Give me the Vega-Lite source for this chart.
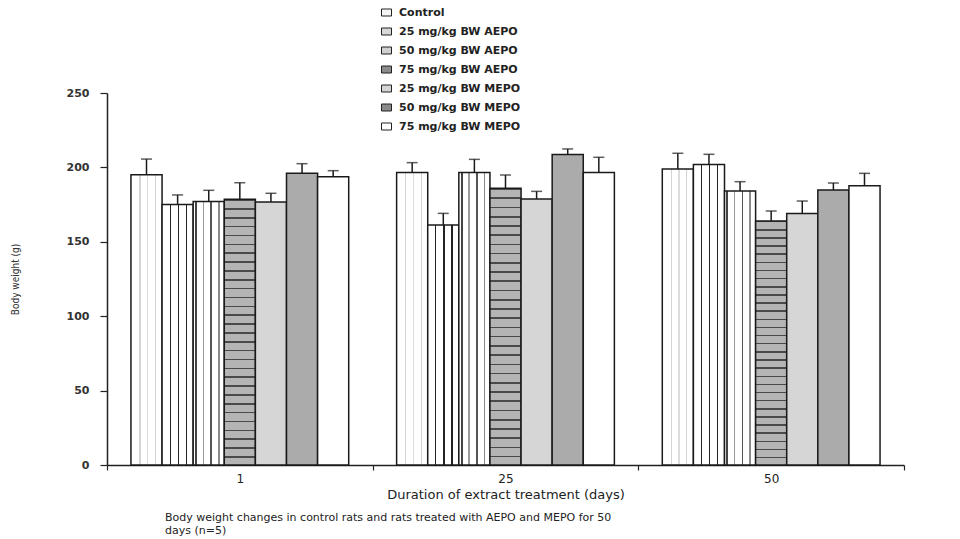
{
  "$schema": "https://vega.github.io/schema/vega-lite/v6.json",
  "width": 797,
  "height": 372,
  "autosize": {"type": "none"},
  "padding": {"left": 107, "top": 93, "right": 56, "bottom": 74},
  "background": "white",
  "config": {"view": {"stroke": null}},
  "title": {
    "text": ["Body weight changes in control rats and rats treated with AEPO and MEPO for 50", "days (n=5)"],
    "orient": "bottom",
    "anchor": "start",
    "frame": "group",
    "dx": 58,
    "offset": 11,
    "font": "DejaVu Sans",
    "fontSize": 11,
    "fontWeight": "normal",
    "color": "#222",
    "lineHeight": 13
  },
  "data": {
    "values": [
      {"day": "1", "group": "Control", "mean": 195.0, "hi": 205.6},
      {"day": "1", "group": "25 mg/kg BW AEPO", "mean": 175.0, "hi": 181.5},
      {"day": "1", "group": "50 mg/kg BW AEPO", "mean": 177.0, "hi": 184.6},
      {"day": "1", "group": "75 mg/kg BW AEPO", "mean": 178.6, "hi": 189.7},
      {"day": "1", "group": "25 mg/kg BW MEPO", "mean": 176.7, "hi": 182.6},
      {"day": "1", "group": "50 mg/kg BW MEPO", "mean": 196.0, "hi": 202.5},
      {"day": "1", "group": "75 mg/kg BW MEPO", "mean": 193.8, "hi": 197.8},
      {"day": "25", "group": "Control", "mean": 196.5, "hi": 203.2},
      {"day": "25", "group": "25 mg/kg BW AEPO", "mean": 161.3, "hi": 169.1},
      {"day": "25", "group": "50 mg/kg BW AEPO", "mean": 196.5, "hi": 205.4},
      {"day": "25", "group": "75 mg/kg BW AEPO", "mean": 186.0, "hi": 194.9},
      {"day": "25", "group": "25 mg/kg BW MEPO", "mean": 178.8, "hi": 183.9},
      {"day": "25", "group": "50 mg/kg BW MEPO", "mean": 208.6, "hi": 212.4},
      {"day": "25", "group": "75 mg/kg BW MEPO", "mean": 196.5, "hi": 206.8},
      {"day": "50", "group": "Control", "mean": 198.9, "hi": 209.5},
      {"day": "50", "group": "25 mg/kg BW AEPO", "mean": 202.0, "hi": 208.8},
      {"day": "50", "group": "50 mg/kg BW AEPO", "mean": 184.1, "hi": 190.4},
      {"day": "50", "group": "75 mg/kg BW AEPO", "mean": 164.0, "hi": 170.7},
      {"day": "50", "group": "25 mg/kg BW MEPO", "mean": 169.1, "hi": 177.4},
      {"day": "50", "group": "50 mg/kg BW MEPO", "mean": 184.8, "hi": 189.5},
      {"day": "50", "group": "75 mg/kg BW MEPO", "mean": 187.7, "hi": 196.0}
    ]
  },
  "encoding": {
    "x": {
      "field": "day",
      "type": "ordinal",
      "scale": {"domain": ["1", "25", "50"], "paddingInner": 0, "paddingOuter": 0},
      "axis": {
        "title": "Duration of extract treatment (days)",
        "labelAngle": 0,
        "tickBand": "extent",
        "tickSize": 5,
        "labelPadding": 3,
        "labelFont": "DejaVu Sans",
        "labelFontSize": 12,
        "labelColor": "#222",
        "titleFont": "DejaVu Sans",
        "titleFontSize": 13,
        "titleFontWeight": "normal",
        "titleColor": "#222",
        "titlePadding": 4,
        "domainColor": "#222",
        "domainWidth": 1.5,
        "tickColor": "#222",
        "tickWidth": 1.2
      }
    },
    "xOffset": {
      "field": "group",
      "type": "nominal",
      "scale": {
        "domain": ["Control", "25 mg/kg BW AEPO", "50 mg/kg BW AEPO", "75 mg/kg BW AEPO", "25 mg/kg BW MEPO", "50 mg/kg BW MEPO", "75 mg/kg BW MEPO"],
        "paddingInner": 0,
        "paddingOuter": 0.77
      }
    }
  },
  "layer": [
    {
      "mark": {"type": "bar", "stroke": null},
      "encoding": {
        "y": {
          "field": "mean",
          "type": "quantitative",
          "scale": {"domain": [0, 250], "nice": false},
          "axis": {
            "title": "Body weight (g)",
            "values": [0, 50, 100, 150, 200, 250],
            "grid": false,
            "tickSize": 7,
            "labelPadding": 11,
            "labelFont": "DejaVu Sans",
            "labelFontSize": 11,
            "labelFontWeight": "bold",
            "labelColor": "#333",
            "titleFont": "DejaVu Sans Condensed, DejaVu Sans",
            "titleFontSize": 10,
            "titleFontWeight": "normal",
            "titleColor": "#333",
            "titleX": -92,
            "titleY": 186,
            "titleAngle": 270,
            "titleAlign": "center",
            "titleBaseline": "middle",
            "domainColor": "#222",
            "domainWidth": 1.5,
            "tickColor": "#222",
            "tickWidth": 1.2
          }
        },
        "fill": {
          "field": "group",
          "type": "nominal",
          "scale": {
            "domain": ["Control", "25 mg/kg BW AEPO", "50 mg/kg BW AEPO", "75 mg/kg BW AEPO", "25 mg/kg BW MEPO", "50 mg/kg BW MEPO", "75 mg/kg BW MEPO"],
            "range": ["#f6f6f6", "#d8d8d8", "#d0d0d0", "#8c8c8c", "#d4d4d4", "#8a8a8a", "#ffffff"]
          },
          "legend": {
            "orient": "none",
            "legendX": 274,
            "legendY": -86,
            "title": null,
            "padding": 0,
            "symbolType": "M-1,-0.7H1V0.7H-1Z",
            "symbolSize": 100,
            "symbolStrokeColor": "#222",
            "symbolStrokeWidth": 1,
            "symbolOpacity": 1,
            "labelFont": "DejaVu Sans",
            "labelFontSize": 11,
            "labelFontWeight": "bold",
            "labelColor": "#222",
            "labelOffset": 7,
            "rowPadding": 7
          }
        }
      }
    },
    {
      "mark": {"type": "bar", "stroke": "#1a1a1a", "strokeWidth": 1.5},
      "encoding": {
        "y": {"field": "mean", "type": "quantitative"},
        "fill": {
          "condition": [
            {
              "test": "datum.group === 'Control'",
              "value": {
                "gradient": "linear", "x1": 0, "y1": 0, "x2": 1, "y2": 0,
                "stops": [
                  {"offset": 0, "color": "#ffffff"}, {"offset": 0.27, "color": "#ffffff"},
                  {"offset": 0.27, "color": "#d4d4d4"}, {"offset": 0.31, "color": "#d4d4d4"},
                  {"offset": 0.31, "color": "#ffffff"}, {"offset": 0.52, "color": "#ffffff"},
                  {"offset": 0.52, "color": "#dcdcdc"}, {"offset": 0.56, "color": "#dcdcdc"},
                  {"offset": 0.56, "color": "#ffffff"}, {"offset": 0.77, "color": "#ffffff"},
                  {"offset": 0.77, "color": "#d4d4d4"}, {"offset": 0.81, "color": "#d4d4d4"},
                  {"offset": 0.81, "color": "#ffffff"}, {"offset": 1, "color": "#ffffff"}
                ]
              }
            },
            {
              "test": "datum.group === '25 mg/kg BW AEPO'",
              "value": {
                "gradient": "linear", "x1": 0, "y1": 0, "x2": 1, "y2": 0,
                "stops": [
                  {"offset": 0, "color": "#ffffff"}, {"offset": 0.24, "color": "#ffffff"},
                  {"offset": 0.24, "color": "#222222"}, {"offset": 0.28, "color": "#222222"},
                  {"offset": 0.28, "color": "#ffffff"}, {"offset": 0.5, "color": "#ffffff"},
                  {"offset": 0.5, "color": "#222222"}, {"offset": 0.54, "color": "#222222"},
                  {"offset": 0.54, "color": "#ffffff"}, {"offset": 0.76, "color": "#ffffff"},
                  {"offset": 0.76, "color": "#222222"}, {"offset": 0.8, "color": "#222222"},
                  {"offset": 0.8, "color": "#ffffff"}, {"offset": 1, "color": "#ffffff"}
                ]
              }
            },
            {
              "test": "datum.group === '50 mg/kg BW AEPO'",
              "value": {
                "gradient": "linear", "x1": 0, "y1": 0, "x2": 1, "y2": 0,
                "stops": [
                  {"offset": 0, "color": "#ffffff"}, {"offset": 0.06, "color": "#ffffff"},
                  {"offset": 0.06, "color": "#444444"}, {"offset": 0.12, "color": "#444444"},
                  {"offset": 0.12, "color": "#ffffff"}, {"offset": 0.31, "color": "#ffffff"},
                  {"offset": 0.31, "color": "#9a9a9a"}, {"offset": 0.35, "color": "#9a9a9a"},
                  {"offset": 0.35, "color": "#ffffff"}, {"offset": 0.55, "color": "#ffffff"},
                  {"offset": 0.55, "color": "#555555"}, {"offset": 0.6, "color": "#555555"},
                  {"offset": 0.6, "color": "#ffffff"}, {"offset": 0.8, "color": "#ffffff"},
                  {"offset": 0.8, "color": "#8a8a8a"}, {"offset": 0.85, "color": "#8a8a8a"},
                  {"offset": 0.85, "color": "#ffffff"}, {"offset": 1, "color": "#ffffff"}
                ]
              }
            },
            {
              "test": "datum.group === '75 mg/kg BW AEPO'",
              "value": {
                "gradient": "linear", "x1": 0, "y1": 0, "x2": 0, "y2": 1,
                "stops": [
                  {"offset": 0, "color": "#4a4a4a"}, {"offset": 0.006, "color": "#4a4a4a"}, {"offset": 0.006, "color": "#b4b4b4"}, {"offset": 0.0333, "color": "#b4b4b4"},
                  {"offset": 0.0333, "color": "#4a4a4a"}, {"offset": 0.0393, "color": "#4a4a4a"}, {"offset": 0.0393, "color": "#b4b4b4"}, {"offset": 0.0667, "color": "#b4b4b4"},
                  {"offset": 0.0667, "color": "#4a4a4a"}, {"offset": 0.0727, "color": "#4a4a4a"}, {"offset": 0.0727, "color": "#b4b4b4"}, {"offset": 0.1, "color": "#b4b4b4"},
                  {"offset": 0.1, "color": "#4a4a4a"}, {"offset": 0.106, "color": "#4a4a4a"}, {"offset": 0.106, "color": "#b4b4b4"}, {"offset": 0.1333, "color": "#b4b4b4"},
                  {"offset": 0.1333, "color": "#4a4a4a"}, {"offset": 0.1393, "color": "#4a4a4a"}, {"offset": 0.1393, "color": "#b4b4b4"}, {"offset": 0.1667, "color": "#b4b4b4"},
                  {"offset": 0.1667, "color": "#4a4a4a"}, {"offset": 0.1727, "color": "#4a4a4a"}, {"offset": 0.1727, "color": "#b4b4b4"}, {"offset": 0.2, "color": "#b4b4b4"},
                  {"offset": 0.2, "color": "#4a4a4a"}, {"offset": 0.206, "color": "#4a4a4a"}, {"offset": 0.206, "color": "#b4b4b4"}, {"offset": 0.2333, "color": "#b4b4b4"},
                  {"offset": 0.2333, "color": "#4a4a4a"}, {"offset": 0.2393, "color": "#4a4a4a"}, {"offset": 0.2393, "color": "#b4b4b4"}, {"offset": 0.2667, "color": "#b4b4b4"},
                  {"offset": 0.2667, "color": "#4a4a4a"}, {"offset": 0.2727, "color": "#4a4a4a"}, {"offset": 0.2727, "color": "#b4b4b4"}, {"offset": 0.3, "color": "#b4b4b4"},
                  {"offset": 0.3, "color": "#4a4a4a"}, {"offset": 0.306, "color": "#4a4a4a"}, {"offset": 0.306, "color": "#b4b4b4"}, {"offset": 0.3333, "color": "#b4b4b4"},
                  {"offset": 0.3333, "color": "#4a4a4a"}, {"offset": 0.3393, "color": "#4a4a4a"}, {"offset": 0.3393, "color": "#b4b4b4"}, {"offset": 0.3667, "color": "#b4b4b4"},
                  {"offset": 0.3667, "color": "#4a4a4a"}, {"offset": 0.3727, "color": "#4a4a4a"}, {"offset": 0.3727, "color": "#b4b4b4"}, {"offset": 0.4, "color": "#b4b4b4"},
                  {"offset": 0.4, "color": "#4a4a4a"}, {"offset": 0.406, "color": "#4a4a4a"}, {"offset": 0.406, "color": "#b4b4b4"}, {"offset": 0.4333, "color": "#b4b4b4"},
                  {"offset": 0.4333, "color": "#4a4a4a"}, {"offset": 0.4393, "color": "#4a4a4a"}, {"offset": 0.4393, "color": "#b4b4b4"}, {"offset": 0.4667, "color": "#b4b4b4"},
                  {"offset": 0.4667, "color": "#4a4a4a"}, {"offset": 0.4727, "color": "#4a4a4a"}, {"offset": 0.4727, "color": "#b4b4b4"}, {"offset": 0.5, "color": "#b4b4b4"},
                  {"offset": 0.5, "color": "#4a4a4a"}, {"offset": 0.506, "color": "#4a4a4a"}, {"offset": 0.506, "color": "#b4b4b4"}, {"offset": 0.5333, "color": "#b4b4b4"},
                  {"offset": 0.5333, "color": "#4a4a4a"}, {"offset": 0.5393, "color": "#4a4a4a"}, {"offset": 0.5393, "color": "#b4b4b4"}, {"offset": 0.5667, "color": "#b4b4b4"},
                  {"offset": 0.5667, "color": "#4a4a4a"}, {"offset": 0.5727, "color": "#4a4a4a"}, {"offset": 0.5727, "color": "#b4b4b4"}, {"offset": 0.6, "color": "#b4b4b4"},
                  {"offset": 0.6, "color": "#4a4a4a"}, {"offset": 0.606, "color": "#4a4a4a"}, {"offset": 0.606, "color": "#b4b4b4"}, {"offset": 0.6333, "color": "#b4b4b4"},
                  {"offset": 0.6333, "color": "#4a4a4a"}, {"offset": 0.6393, "color": "#4a4a4a"}, {"offset": 0.6393, "color": "#b4b4b4"}, {"offset": 0.6667, "color": "#b4b4b4"},
                  {"offset": 0.6667, "color": "#4a4a4a"}, {"offset": 0.6727, "color": "#4a4a4a"}, {"offset": 0.6727, "color": "#b4b4b4"}, {"offset": 0.7, "color": "#b4b4b4"},
                  {"offset": 0.7, "color": "#4a4a4a"}, {"offset": 0.706, "color": "#4a4a4a"}, {"offset": 0.706, "color": "#b4b4b4"}, {"offset": 0.7333, "color": "#b4b4b4"},
                  {"offset": 0.7333, "color": "#4a4a4a"}, {"offset": 0.7393, "color": "#4a4a4a"}, {"offset": 0.7393, "color": "#b4b4b4"}, {"offset": 0.7667, "color": "#b4b4b4"},
                  {"offset": 0.7667, "color": "#4a4a4a"}, {"offset": 0.7727, "color": "#4a4a4a"}, {"offset": 0.7727, "color": "#b4b4b4"}, {"offset": 0.8, "color": "#b4b4b4"},
                  {"offset": 0.8, "color": "#4a4a4a"}, {"offset": 0.806, "color": "#4a4a4a"}, {"offset": 0.806, "color": "#b4b4b4"}, {"offset": 0.8333, "color": "#b4b4b4"},
                  {"offset": 0.8333, "color": "#4a4a4a"}, {"offset": 0.8393, "color": "#4a4a4a"}, {"offset": 0.8393, "color": "#b4b4b4"}, {"offset": 0.8667, "color": "#b4b4b4"},
                  {"offset": 0.8667, "color": "#4a4a4a"}, {"offset": 0.8727, "color": "#4a4a4a"}, {"offset": 0.8727, "color": "#b4b4b4"}, {"offset": 0.9, "color": "#b4b4b4"},
                  {"offset": 0.9, "color": "#4a4a4a"}, {"offset": 0.906, "color": "#4a4a4a"}, {"offset": 0.906, "color": "#b4b4b4"}, {"offset": 0.9333, "color": "#b4b4b4"},
                  {"offset": 0.9333, "color": "#4a4a4a"}, {"offset": 0.9393, "color": "#4a4a4a"}, {"offset": 0.9393, "color": "#b4b4b4"}, {"offset": 0.9667, "color": "#b4b4b4"},
                  {"offset": 0.9667, "color": "#4a4a4a"}, {"offset": 0.9727, "color": "#4a4a4a"}, {"offset": 0.9727, "color": "#b4b4b4"}, {"offset": 1, "color": "#b4b4b4"}
                ]
              }
            },
            {"test": "datum.group === '25 mg/kg BW MEPO'", "value": "#d6d6d6"},
            {"test": "datum.group === '50 mg/kg BW MEPO'", "value": "#ababab"}
          ],
          "value": "#ffffff"
        }
      }
    },
    {
      "mark": {"type": "rule", "color": "#1a1a1a", "strokeWidth": 1.5},
      "encoding": {
        "y": {"field": "mean", "type": "quantitative"},
        "y2": {"field": "hi"}
      }
    },
    {
      "mark": {"type": "tick", "color": "#1a1a1a", "thickness": 1.5, "size": 11, "orient": "horizontal"},
      "encoding": {
        "y": {"field": "hi", "type": "quantitative"}
      }
    }
  ]
}
